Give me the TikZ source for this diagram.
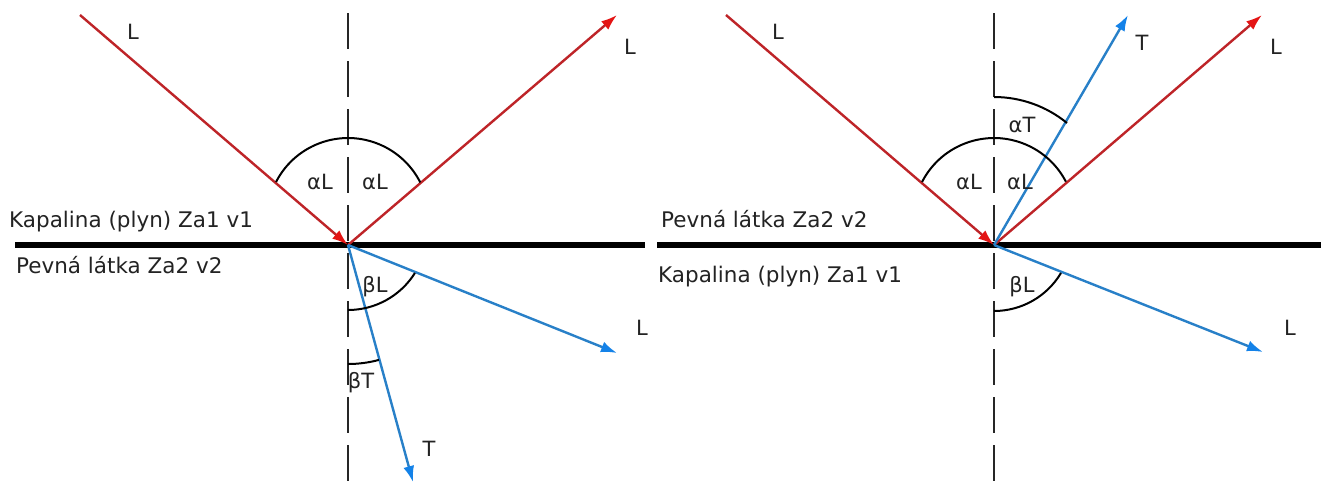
\documentclass[tikz,border=0pt]{standalone}
\usepackage{fontspec}
\setmainfont{DejaVu Sans}
\usetikzlibrary{arrows.meta}
\definecolor{rayred}{RGB}{190,36,40}
\definecolor{tipred}{RGB}{228,20,20}
\definecolor{rayblue}{RGB}{40,128,200}
\definecolor{tipblue}{RGB}{20,130,232}
\definecolor{txt}{RGB}{35,35,35}
\begin{document}
\begin{tikzpicture}[x=1pt,y=1pt,
  redray/.style={draw=rayred,line width=2.4pt,-{Latex[length=16pt,width=11pt,color=tipred,fill=tipred]}},
  blueray/.style={draw=rayblue,line width=2.4pt,-{Latex[length=16pt,width=11pt,color=tipblue,fill=tipblue]}},
  anglearc/.style={draw=black,line width=2pt},
  interface/.style={draw=black,line width=6pt},
  normalline/.style={draw=black!85,line width=1.3pt,dash pattern=on 36pt off 12pt},
  lbl/.style={inner sep=0pt,font=\fontsize{21}{25}\selectfont,text=txt},
  medium/.style={inner sep=0pt,anchor=base west,font=\fontsize{21.5}{26}\selectfont,text=txt}]
\useasboundingbox[fill=white] (0,-483) rectangle (1321,0);

% ---------- left panel ----------
\coordinate (O1) at (348,-245);
\coordinate (ifL1) at (15,-245);
\coordinate (ifR1) at (645,-245);
\coordinate (nT1) at (348,-13);
\coordinate (nB1) at (348,-483);
\coordinate (inc1) at (80,-15);
\coordinate (refl1) at (617,-15);
\coordinate (refrL1) at (617,-353);
\coordinate (refrT1) at (413,-482);

\draw[interface] (ifL1) -- (ifR1);
\draw[normalline] (nT1) -- (nB1);
\draw[redray] (inc1) -- (O1);
\draw[redray] (O1) -- (refl1);
\draw[blueray] (O1) -- (refrL1);
\draw[blueray] (O1) -- (refrT1);

\coordinate (aL1s) at (276,-182);
\draw[anglearc] (aL1s) arc[start angle=152.8,end angle=26.9,radius=81];
\coordinate (bL1s) at (348,-310);
\draw[anglearc] (bL1s) arc[start angle=-90,end angle=-32.1,radius=79];
\coordinate (bT1s) at (348,-364);
\draw[anglearc] (bT1s) arc[start angle=-90,end angle=-74.9,radius=119];

\node[lbl] (Linc1) at (133,-32) {L};
\node[lbl] (Lrefl1) at (630,-47) {L};
\node[lbl] (Lrefr1) at (642,-328) {L};
\node[lbl] (Trefr1) at (429,-449) {T};
\node[lbl] (aLa1) at (320,-182) {αL};
\node[lbl] (aLb1) at (375,-182) {αL};
\node[lbl] (bL1) at (375,-287) {βL};
\node[lbl] (bT1) at (361,-383) {βT};
\node[medium] (top1) at (9,-227) {Kapalina (plyn) Za1 v1};
\node[medium] (bot1) at (16,-273) {Pevná látka Za2 v2};

% ---------- right panel ----------
\coordinate (O2) at (994,-245);
\coordinate (ifL2) at (657,-245);
\coordinate (ifR2) at (1321,-245);
\coordinate (nT2) at (994,-13);
\coordinate (nB2) at (994,-483);
\coordinate (inc2) at (726,-15);
\coordinate (refl2) at (1262,-15);
\coordinate (reflT2) at (1128,-15);
\coordinate (refrL2) at (1263,-352);

\draw[interface] (ifL2) -- (ifR2);
\draw[normalline] (nT2) -- (nB2);
\draw[redray] (inc2) -- (O2);
\draw[redray] (O2) -- (refl2);
\draw[blueray] (O2) -- (reflT2);
\draw[blueray] (O2) -- (refrL2);

\coordinate (aL2s) at (922,-182);
\draw[anglearc] (aL2s) arc[start angle=152.8,end angle=27.5,radius=81];
\coordinate (aT2s) at (994,-97);
\draw[anglearc] (aT2s) arc[start angle=90,end angle=50.8,radius=115.5];
\coordinate (bL2s) at (994,-311);
\draw[anglearc] (bL2s) arc[start angle=-90,end angle=-30.8,radius=78];

\node[lbl] (Linc2) at (778,-32) {L};
\node[lbl] (Trefl2) at (1142,-43) {T};
\node[lbl] (Lrefl2) at (1276,-47) {L};
\node[lbl] (aT2) at (1022,-125) {αT};
\node[lbl] (aLa2) at (969,-182) {αL};
\node[lbl] (aLb2) at (1020,-182) {αL};
\node[lbl] (bL2) at (1022,-287) {βL};
\node[lbl] (Lrefr2) at (1290,-328) {L};
\node[medium] (top2) at (661,-227) {Pevná látka Za2 v2};
\node[medium] (bot2) at (658,-282) {Kapalina (plyn) Za1 v1};
\end{tikzpicture}
\end{document}
